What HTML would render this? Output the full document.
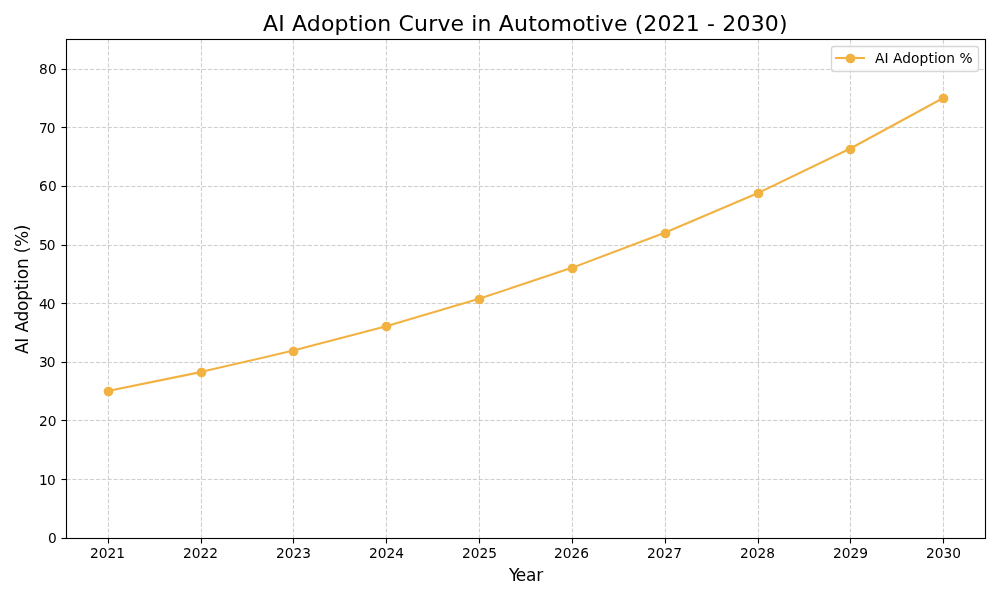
<!DOCTYPE html>
<html lang="en">
<head>
<meta charset="utf-8">
<title>AI Adoption Curve in Automotive (2021 - 2030)</title>
<style>
html,body{margin:0;padding:0;background:#fff;}
body{width:1000px;height:600px;overflow:hidden;}
svg text{white-space:pre;}
</style>
</head>
<body>
<svg width="1000" height="600" viewBox="0 0 1000 600" style="display:block;font-family:'DejaVu Sans', 'Liberation Sans', sans-serif">
<rect width="1000" height="600" fill="#fff"/>
<g stroke="#b0b0b0" stroke-opacity="0.6" stroke-width="1.111" stroke-dasharray="4.111 1.778" fill="none">
<path d="M108.5 538.5V39.5"/>
<path d="M201.5 538.5V39.5"/>
<path d="M293.5 538.5V39.5"/>
<path d="M386.5 538.5V39.5"/>
<path d="M479.5 538.5V39.5"/>
<path d="M572.5 538.5V39.5"/>
<path d="M665.5 538.5V39.5"/>
<path d="M758.5 538.5V39.5"/>
<path d="M850.5 538.5V39.5"/>
<path d="M943.5 538.5V39.5"/>
</g>
<g stroke="#b0b0b0" stroke-dasharray="4.111 1.778" fill="none">
<path d="M66.5 479.5H985.5" stroke-width="3" stroke-opacity="0.033"/><path d="M66.5 479.5H985.5" stroke-width="1" stroke-opacity="0.6"/>
<path d="M66.5 420.5H985.5" stroke-width="3" stroke-opacity="0.033"/><path d="M66.5 420.5H985.5" stroke-width="1" stroke-opacity="0.6"/>
<path d="M66.5 362.5H985.5" stroke-width="3" stroke-opacity="0.033"/><path d="M66.5 362.5H985.5" stroke-width="1" stroke-opacity="0.6"/>
<path d="M66.5 303.5H985.5" stroke-width="3" stroke-opacity="0.033"/><path d="M66.5 303.5H985.5" stroke-width="1" stroke-opacity="0.6"/>
<path d="M66.5 245.5H985.5" stroke-width="3" stroke-opacity="0.033"/><path d="M66.5 245.5H985.5" stroke-width="1" stroke-opacity="0.6"/>
<path d="M66.5 186.5H985.5" stroke-width="3" stroke-opacity="0.033"/><path d="M66.5 186.5H985.5" stroke-width="1" stroke-opacity="0.6"/>
<path d="M66.5 127.5H985.5" stroke-width="3" stroke-opacity="0.033"/><path d="M66.5 127.5H985.5" stroke-width="1" stroke-opacity="0.6"/>
<path d="M66.5 69.5H985.5" stroke-width="3" stroke-opacity="0.033"/><path d="M66.5 69.5H985.5" stroke-width="1" stroke-opacity="0.6"/>
</g>
<g stroke="#000" stroke-width="1.111" fill="none">
<path d="M108.5 538.5v5"/>
<path d="M201.5 538.5v5"/>
<path d="M293.5 538.5v5"/>
<path d="M386.5 538.5v5"/>
<path d="M479.5 538.5v5"/>
<path d="M572.5 538.5v5"/>
<path d="M665.5 538.5v5"/>
<path d="M758.5 538.5v5"/>
<path d="M850.5 538.5v5"/>
<path d="M943.5 538.5v5"/>
</g>
<g stroke="#000" fill="none">
<path d="M66.5 538.5h-5" stroke-width="3" stroke-opacity="0.0555"/><path d="M66.5 538.5h-5" stroke-width="1"/>
<path d="M66.5 479.5h-5" stroke-width="3" stroke-opacity="0.0555"/><path d="M66.5 479.5h-5" stroke-width="1"/>
<path d="M66.5 420.5h-5" stroke-width="3" stroke-opacity="0.0555"/><path d="M66.5 420.5h-5" stroke-width="1"/>
<path d="M66.5 362.5h-5" stroke-width="3" stroke-opacity="0.0555"/><path d="M66.5 362.5h-5" stroke-width="1"/>
<path d="M66.5 303.5h-5" stroke-width="3" stroke-opacity="0.0555"/><path d="M66.5 303.5h-5" stroke-width="1"/>
<path d="M66.5 245.5h-5" stroke-width="3" stroke-opacity="0.0555"/><path d="M66.5 245.5h-5" stroke-width="1"/>
<path d="M66.5 186.5h-5" stroke-width="3" stroke-opacity="0.0555"/><path d="M66.5 186.5h-5" stroke-width="1"/>
<path d="M66.5 127.5h-5" stroke-width="3" stroke-opacity="0.0555"/><path d="M66.5 127.5h-5" stroke-width="1"/>
<path d="M66.5 69.5h-5" stroke-width="3" stroke-opacity="0.0555"/><path d="M66.5 69.5h-5" stroke-width="1"/>
</g>
<path d="M107.68 391.137L200.518 372.106L293.356 350.604L386.194 326.31L479.032 298.862L571.87 267.851L664.709 232.813L757.547 193.227L850.385 148.5L943.223 97.967" fill="none" stroke="#F2B242" stroke-width="2.083" stroke-linecap="square" stroke-linejoin="round"/>
<g fill="#F2B242" stroke="#F2B242" stroke-width="1.389">
<circle cx="108.5" cy="391.5" r="4.167"/>
<circle cx="201.5" cy="372.5" r="4.167"/>
<circle cx="293.5" cy="351.5" r="4.167"/>
<circle cx="386.5" cy="326.5" r="4.167"/>
<circle cx="479.5" cy="299.5" r="4.167"/>
<circle cx="572.5" cy="268.5" r="4.167"/>
<circle cx="665.5" cy="233.5" r="4.167"/>
<circle cx="758.5" cy="193.5" r="4.167"/>
<circle cx="850.5" cy="149.5" r="4.167"/>
<circle cx="943.5" cy="98.5" r="4.167"/>
</g>
<g fill="none" stroke="#000">
<path d="M66 39.5H986M66 538.5H986" stroke-width="3" stroke-opacity="0.0555"/>
<path d="M66.5 39.5V538.5M985.5 39.5V538.5" stroke-width="1.111" stroke-linecap="square"/>
<path d="M66.5 39.5H985.5M66.5 538.5H985.5" stroke-width="1" stroke-linecap="square"/>
</g>
<g fill="#000">
<text x="90 98.75 107.5 116.25" y="558" font-size="13.75">2021</text>
<text x="183 191.75 200.5 209.25" y="558" font-size="13.75">2022</text>
<text x="276 284.75 293.5 302.25" y="558" font-size="13.75">2023</text>
<text x="369 377.75 386.5 395.25" y="558" font-size="13.75">2024</text>
<text x="462 470.75 479.5 488.25" y="558" font-size="13.75">2025</text>
<text x="554 562.75 571.5 580.25" y="558" font-size="13.75">2026</text>
<text x="647 655.75 664.5 673.25" y="558" font-size="13.75">2027</text>
<text x="740 748.75 757.5 766.25" y="558" font-size="13.75">2028</text>
<text x="833 841.75 850.5 859.25" y="558" font-size="13.75">2029</text>
<text x="926 934.75 943.5 952.25" y="558" font-size="13.75">2030</text>
<text x="48" y="543" font-size="13.75">0</text>
<text x="39 46.875" y="485" font-size="13.75">10</text>
<text x="39 47.75" y="426" font-size="13.75">20</text>
<text x="39 46.75" y="367" font-size="13.75">30</text>
<text x="39 46.75" y="309" font-size="13.75">40</text>
<text x="39 46.75" y="250" font-size="13.75">50</text>
<text x="39 47.875" y="191" font-size="13.75">60</text>
<text x="39 46.75" y="133" font-size="13.75">70</text>
<text x="39 47.875" y="74" font-size="13.75">80</text>
<text x="508.875 515.75 526 536.125" y="581" font-size="17">Year</text>
<text x="28 39.375 44.25 49.5 60.625 71.125 81.25 91.75 98.25 102.875 113 123.5 128.75 135.125 150.75" y="354" font-size="17" transform="rotate(-90 28 354)">AI Adoption (%)</text>
<text x="263 278.25 284.75 291.875 306.75 320.875 334.5 348.625 357.375 363.625 377.25 391.375 398.5 414 428.125 437.375 450.5 464.125 471.25 477.5 491.625 498.75 514 528.125 536.875 550.5 572.125 585.75 594.5 600.75 613.875 627.5 634.625 643.25 657.375 671.625 685.75 699.875 707 715.125 722.25 736.375 750.625 764.75 779" y="31" font-size="22">AI Adoption Curve in Automotive (2021 - 2030)</text>
</g>
<rect x="831.5" y="46.5" width="147" height="25" rx="2.778" ry="2.778" fill="#fff" fill-opacity="0.8" stroke="#ccc" stroke-opacity="0.8" stroke-width="1.389"/>
<path d="M836 58H864" stroke="#F2B242" stroke-width="2.083" stroke-linecap="square" fill="none"/>
<circle cx="850.5" cy="58.5" r="4.167" fill="#F2B242" stroke="#F2B242" stroke-width="1.389"/>
<g fill="#000"><text x="875 884.5 888.5 892.875 902.125 911 919.5 928.375 933.875 937.75 946.25 955 959.375" y="63" font-size="13.75">AI Adoption %</text></g>
</svg>
</body>
</html>
